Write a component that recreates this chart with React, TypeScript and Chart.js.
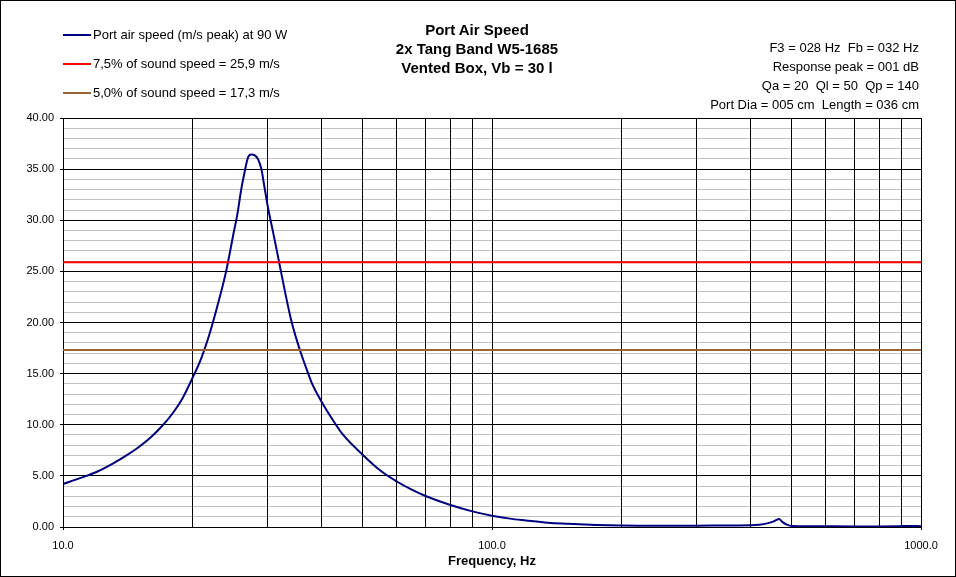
import { useEffect, useRef } from "react"
import { Chart, registerables } from "chart.js"

Chart.register(...registerables)

// port air speed curve (m/s peak)
const freqHz = [
  10, 11, 12, 13, 14, 15, 16, 17, 18, 19, 20, 21, 22, 23, 24, 25, 25.5, 26, 26.5, 27, 27.5, 28, 28.5, 29,
  29.5, 30, 30.5, 31, 32, 33, 34, 35, 36, 37, 38, 40, 42.5, 45, 50, 55, 60, 65, 70, 80, 90, 100, 110, 120,
  135, 150, 175, 200, 250, 300, 350, 400, 420, 440, 455, 467, 475, 487, 500, 550, 600, 700, 800, 880, 900,
  930, 1000,
]
const speed = [
  4.2, 4.8, 5.4, 6.15, 6.95, 7.8, 8.75, 9.85, 11.1, 12.6, 14.5, 16.5, 19.0, 21.9, 25.0, 28.8, 30.6, 32.9,
  34.7, 36.15, 36.42, 36.35, 35.95, 35.0, 33.2, 31.4, 29.9, 28.5, 25.6, 22.8, 20.3, 18.4, 16.8, 15.4, 14.1,
  12.3, 10.5, 9.0, 7.05, 5.5, 4.45, 3.65, 3.03, 2.15, 1.53, 1.11, 0.82, 0.64, 0.42, 0.32, 0.2, 0.14, 0.12,
  0.13, 0.15, 0.17, 0.22, 0.38, 0.58, 0.78, 0.5, 0.23, 0.1, 0.08, 0.07, 0.06, 0.06, 0.07, 0.1, 0.1, 0.08,
]

const limit75 = 25.9
const limit50 = 17.3

const xMin = 10
const xMax = 1000
const xGridHz = [10, 20, 30, 40, 50, 60, 70, 80, 90, 100, 200, 300, 400, 500, 600, 700, 800, 900, 1000]
const xLabelHz = [10, 100, 1000]
const yMin = 0
const yMax = 40
const yMajor = 5

const titleLines = ["Port Air Speed", "2x Tang Band W5-1685", "Vented Box, Vb = 30 l"]
const infoLines = [
  "F3 = 028 Hz  Fb = 032 Hz",
  "Response peak = 001 dB",
  "Qa = 20  Ql = 50  Qp = 140",
  "Port Dia = 005 cm  Length = 036 cm",
]
const legendLabels = [
  "Port air speed (m/s peak) at 90 W",
  "7,5% of sound speed = 25,9 m/s",
  "5,0% of sound speed = 17,3 m/s",
]
const colors = ["#000080", "#ff0000", "#996633"]

const font = "'Liberation Sans', Arial, sans-serif"

function SpeedChart() {
  const chartRef = useRef<HTMLCanvasElement>(null)
  const chartInstance = useRef<Chart | null>(null)

  useEffect(() => {
    if (!chartRef.current) return
    const ctx = chartRef.current.getContext("2d")
    if (!ctx) return

    if (chartInstance.current) chartInstance.current.destroy()

    chartInstance.current = new Chart(ctx, {
      type: "line",
      data: {
        datasets: [
          {
            label: legendLabels[1],
            data: [
              { x: xMin, y: limit75 },
              { x: xMax, y: limit75 },
            ],
            borderColor: colors[1],
            borderWidth: 2,
            pointRadius: 0,
            order: 1,
          },
          {
            label: legendLabels[2],
            data: [
              { x: xMin, y: limit50 },
              { x: xMax, y: limit50 },
            ],
            borderColor: colors[2],
            borderWidth: 2,
            pointRadius: 0,
            order: 2,
          },
          {
            label: legendLabels[0],
            data: freqHz.map((f, i) => ({ x: f, y: speed[i] })),
            borderColor: colors[0],
            borderWidth: 2,
            pointRadius: 0,
            cubicInterpolationMode: "monotone",
            order: 3,
          },
        ],
      },
      options: {
        responsive: false,
        animation: false,
        layout: { padding: { left: 8, top: 118, right: 35, bottom: 0 } },
        plugins: {
          legend: { display: false },
          tooltip: { enabled: false },
        },
        scales: {
          x: {
            type: "logarithmic",
            min: xMin,
            max: xMax,
            afterBuildTicks: (scale: any) => {
              scale.ticks = xGridHz.map((v) => ({ value: v }))
            },
            afterFit: (scale: any) => {
              scale.height = 50
            },
            // vertical lines go over the grey minor lines
            grid: {
              z: -0.5,
              color: "#000",
              lineWidth: 1,
              tickLength: 3,
              tickColor: (c: any) => (xLabelHz.includes(c.tick?.value) ? "#000" : "rgba(0,0,0,0)"),
            },
            border: { color: "#000", width: 1 },
            ticks: {
              autoSkip: false,
              maxRotation: 0,
              padding: 9,
              color: "#000",
              font: { family: font, size: 11 },
              callback: (v: any) => (xLabelHz.includes(Number(v)) ? Number(v).toFixed(1) : ""),
            },
            title: {
              display: true,
              text: "Frequency, Hz",
              color: "#000",
              font: { family: font, size: 13, weight: "bold" },
              padding: { top: 0, bottom: 8 },
            },
          },
          y: {
            type: "linear",
            min: yMin,
            max: yMax,
            afterFit: (scale: any) => {
              scale.width = 55
            },
            grid: {
              z: -1,
              color: (c: any) => (c.tick?.value % yMajor === 0 ? "#000" : "#c0c0c0"),
              lineWidth: 1,
              tickLength: 3,
              tickColor: (c: any) => (c.tick?.value % yMajor === 0 ? "#000" : "rgba(0,0,0,0)"),
            },
            border: { color: "#000", width: 1 },
            ticks: {
              stepSize: 1,
              autoSkip: false,
              padding: 6,
              color: "#000",
              font: { family: font, size: 11 },
              callback: (v: any) => (Number(v) % yMajor === 0 ? Number(v).toFixed(2) : ""),
            },
          },
        },
      },
    })

    return () => {
      if (chartInstance.current) {
        chartInstance.current.destroy()
        chartInstance.current = null
      }
    }
  }, [])

  return (
    <canvas
      ref={chartRef}
      width={956}
      height={577}
      style={{ position: "absolute", left: 0, top: 0, width: 956, height: 577 }}
    ></canvas>
  )
}

export default function App() {
  const legendY = [35, 64, 93]
  const titleY = [30, 48.5, 67.5]
  const infoY = [48, 67, 86, 105]

  return (
    <div
      style={{
        position: "absolute",
        left: 0,
        top: 0,
        width: 956,
        height: 577,
        background: "#fff",
        fontFamily: font,
        color: "#000",
        overflow: "hidden",
      }}
    >
      <SpeedChart />

      {legendLabels.map((label, i) => (
        <div key={label}>
          <div
            style={{
              position: "absolute",
              left: 63,
              top: legendY[i] - 1,
              width: 28,
              height: 2,
              background: colors[i],
            }}
          />
          <div
            style={{
              position: "absolute",
              left: 93,
              top: legendY[i] - 8,
              height: 16,
              lineHeight: "16px",
              fontSize: 13,
              whiteSpace: "pre",
            }}
          >
            {label}
          </div>
        </div>
      ))}

      {titleLines.map((line, i) => (
        <div
          key={line}
          style={{
            position: "absolute",
            left: 277,
            width: 400,
            top: titleY[i] - 10,
            height: 20,
            lineHeight: "20px",
            textAlign: "center",
            fontSize: 15,
            fontWeight: "bold",
            whiteSpace: "pre",
          }}
        >
          {line}
        </div>
      ))}

      {infoLines.map((line, i) => (
        <div
          key={line}
          style={{
            position: "absolute",
            right: 37,
            top: infoY[i] - 8,
            height: 16,
            lineHeight: "16px",
            fontSize: 13,
            whiteSpace: "pre",
            textAlign: "right",
          }}
        >
          {line}
        </div>
      ))}

      <div
        style={{
          position: "absolute",
          left: 0,
          top: 0,
          width: 956,
          height: 577,
          boxSizing: "border-box",
          border: "1px solid #000",
          pointerEvents: "none",
        }}
      />
    </div>
  )
}
